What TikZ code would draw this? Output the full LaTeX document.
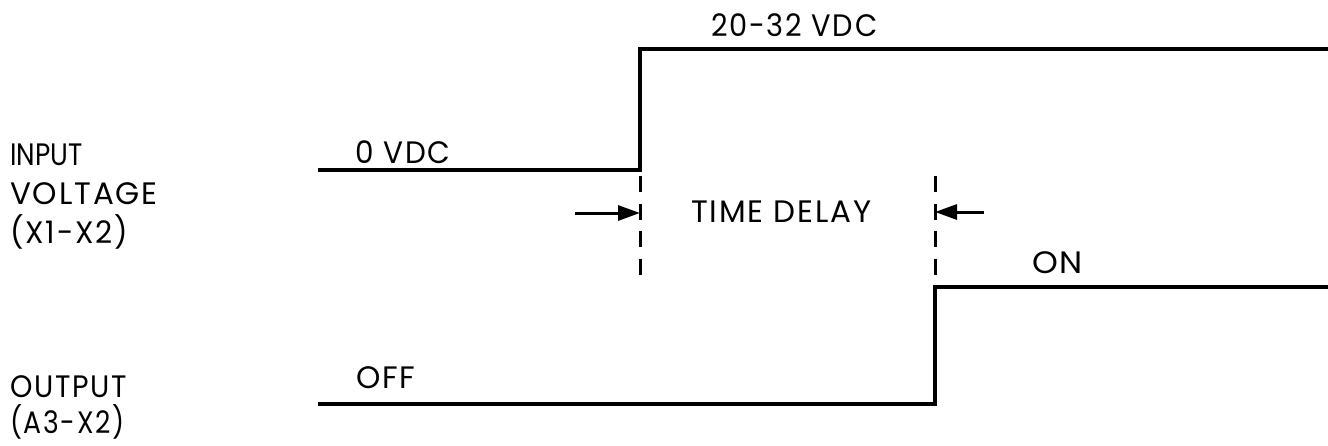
\documentclass[tikz,border=0pt]{standalone}
\usepackage{fontspec}
\usepackage{graphicx}
\setmainfont{Poppins}[LetterSpace=6]
\usetikzlibrary{arrows.meta}
\newcommand{\hsq}[2]{\scalebox{#1}[1]{#2}}
\begin{document}
\begin{tikzpicture}[x=1pt,y=-1pt,
  wave/.style={line width=3.2pt, line cap=butt, line join=miter},
  marker/.style={line width=3pt, dash pattern=on 16pt off 11.5pt},
  delayarrow/.style={line width=3pt, -{Triangle[length=22pt,width=15pt]}},
  lbl/.style={font=\fontsize{31}{36}\selectfont, inner sep=0pt, anchor=base west}]
\useasboundingbox (0,0) rectangle (1328,445);
% input waveform
\coordinate (i0) at (318,170);
\coordinate (i1) at (640,170);
\coordinate (i2) at (640,49);
\coordinate (i3) at (1328,49);
\draw[wave] (i0) -- (i1) -- (i2) -- (i3);
% output waveform
\coordinate (o0) at (318,404);
\coordinate (o1) at (935,404);
\coordinate (o2) at (935,287);
\coordinate (o3) at (1328,287);
\draw[wave] (o0) -- (o1) -- (o2) -- (o3);
% dashed markers
\coordinate (d1a) at (640,176);
\coordinate (d1b) at (640,275);
\coordinate (d2a) at (935,176);
\coordinate (d2b) at (935,275);
\draw[marker] (d1a) -- (d1b);
\draw[marker] (d2a) -- (d2b);
% arrows
\coordinate (a1s) at (575,213);
\coordinate (a1e) at (640,213);
\coordinate (a2s) at (984,212);
\coordinate (a2e) at (935,212);
\draw[delayarrow] (a1s) -- (a1e);
\draw[delayarrow] (a2s) -- (a2e);
% labels
\node[lbl] (hi) at (711,36) {\hsq{0.93}{20-32 VDC}};
\node[lbl] (lo) at (355,163) {\hsq{0.95}{0 VDC}};
\node[lbl] (td) at (691,222) {TIME DELAY};
\node[lbl] (on) at (1032,273) {\hsq{1.06}{ON}};
\node[lbl] (off) at (356,388) {OFF};
\node[lbl] (in1) at (10,165) {\addfontfeatures{LetterSpace=0}\hsq{0.85}{INPUT}};
\node[lbl] (in2) at (10,204) {VOLTAGE};
\node[lbl] (in3) at (10,243) {\hsq{0.96}{(X1-X2)}};
\node[lbl] (out1) at (10,397) {\hsq{0.92}{OUTPUT}};
\node[lbl] (out2) at (10,433) {\hsq{0.86}{(A3-X2)}};
\end{tikzpicture}
\end{document}
